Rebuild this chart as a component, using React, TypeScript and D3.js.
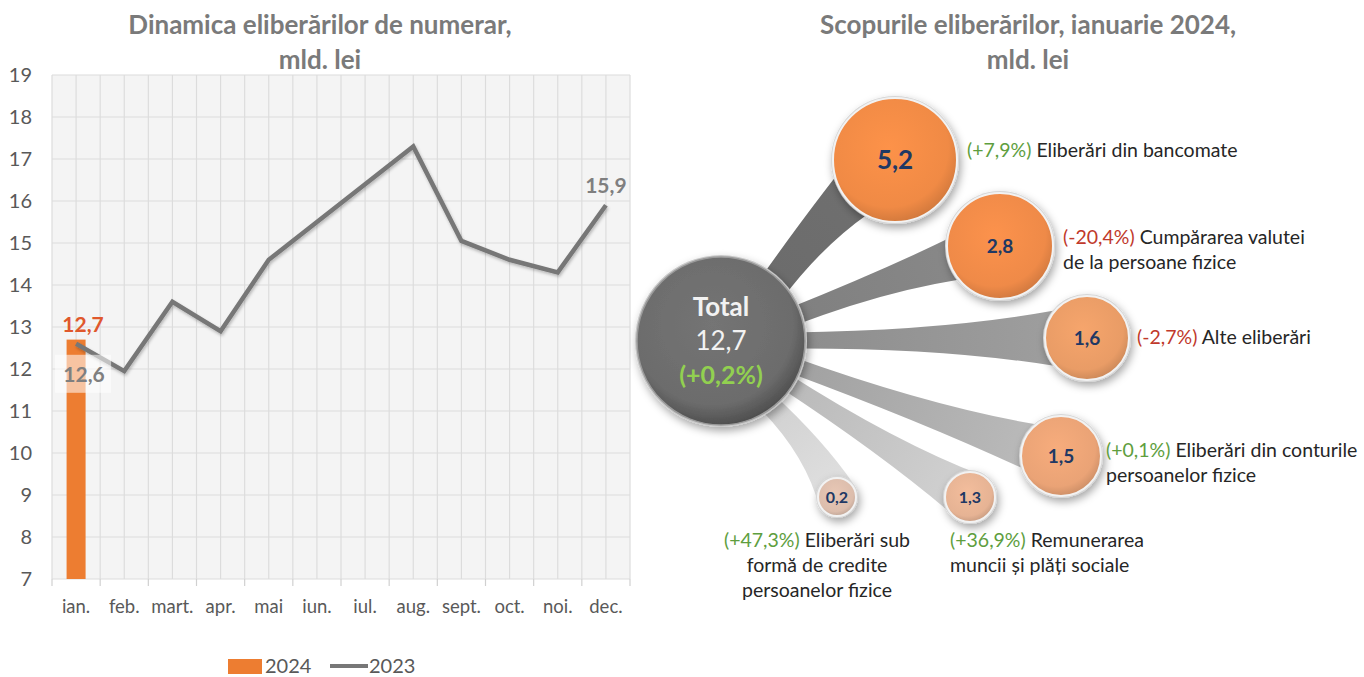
import React, { useEffect, useRef } from "react";
import * as d3 from "d3";

// left chart data
const months = ["ian.", "feb.", "mart.", "apr.", "mai", "iun.", "iul.", "aug.", "sept.", "oct.", "noi.", "dec."];
const values2023 = [12.6, 11.95, 13.6, 12.9, 14.6, 15.5, 16.4, 17.3, 15.05, 14.6, 14.3, 15.9];
const values2024 = [12.7];
const yTicks = [7, 8, 9, 10, 11, 12, 13, 14, 15, 16, 17, 18, 19];

// right chart data
const totalValue = "12,7";
const totalChange = "(+0,2%)";
const purposeValues = [5.2, 2.8, 1.6, 1.5, 1.3, 0.2];
const purposeChanges = ["+7,9%", "-20,4%", "-2,7%", "+0,1%", "+36,9%", "+47,3%"];
const purposeLabels = [
    ["Eliberări din bancomate"],
    ["Cumpărarea valutei", "de la persoane fizice"],
    ["Alte eliberări"],
    ["Eliberări din conturile", "persoanelor fizice"],
    ["Remunerarea", "muncii și plăți sociale"],
    ["Eliberări sub", "formă de credite", "persoanelor fizice"],
];

// bubble layout (positions, sizes, colours)
const bubbleLayout = [
    { x: 895, y: 160, r: 62, fill: "#f08a45", ribbon: "#6a6a6a", ribbonEnd: "#707070", w0: 15, w1: 36, bend: -14, font: 26, lx: 967, ly: 150, anchor: "start" },
    { x: 1000, y: 246, r: 53, fill: "#ef8a48", ribbon: "#7c7c7c", ribbonEnd: "#8a8a8a", w0: 9, w1: 30, bend: -6, font: 19, lx: 1063, ly: 237, anchor: "start" },
    { x: 1087, y: 338, r: 42, fill: "#e99c66", ribbon: "#888888", ribbonEnd: "#a0a0a0", w0: 8, w1: 34, bend: 0, font: 19, lx: 1137, ly: 337, anchor: "start" },
    { x: 1061, y: 456, r: 40, fill: "#eaa376", ribbon: "#999999", ribbonEnd: "#bdbdbd", w0: 8, w1: 28, bend: 4, font: 19, lx: 1106, ly: 450, anchor: "start" },
    { x: 970, y: 497, r: 25, fill: "#e6b394", ribbon: "#b0b0b0", ribbonEnd: "#d2d2d2", w0: 8, w1: 25, bend: 2, font: 16, lx: 950, ly: 540, anchor: "start" },
    { x: 837, y: 497, r: 19, fill: "#dcbdac", ribbon: "#c6c6c6", ribbonEnd: "#e0e0e0", w0: 10, w1: 21, bend: -12, font: 16, lx: 817, ly: 540, anchor: "middle" },
];

const FONT = "Lato, 'Open Sans', sans-serif";

const App: React.FC = () => {
    const svgRef = useRef<SVGSVGElement | null>(null);

    useEffect(() => {
        if (!svgRef.current) return;
        document.body.style.margin = "0";

        const width = 1364;
        const height = 677;
        const svg = d3.select(svgRef.current);
        svg.selectAll("*").remove();
        svg.attr("width", width).attr("height", height).style("font-family", FONT);

        svg.append("rect").attr("width", width).attr("height", height).attr("fill", "#ffffff");

        const defs = svg.append("defs");
        const shadow = defs.append("filter").attr("id", "shadow").attr("x", "-30%").attr("y", "-30%").attr("width", "160%").attr("height", "160%");
        shadow.append("feDropShadow").attr("dx", 2).attr("dy", 4).attr("stdDeviation", 4).attr("flood-color", "#000").attr("flood-opacity", 0.35);
        const lineBlur = defs.append("filter").attr("id", "lineShadow").attr("x", "-10%").attr("y", "-10%").attr("width", "120%").attr("height", "120%");
        lineBlur.append("feDropShadow").attr("dx", 1).attr("dy", 2).attr("stdDeviation", 1.5).attr("flood-color", "#000").attr("flood-opacity", 0.25);

        // ---------- left chart ----------
        const plot = { left: 52, right: 630, top: 75, bottom: 579 };

        const x = d3.scaleBand().domain(months).range([plot.left, plot.right]);
        const y = d3.scaleLinear().domain([7, 19]).range([plot.bottom, plot.top]);
        const bw = x.bandwidth();

        svg.append("g")
            .attr("font-weight", "bold")
            .attr("font-size", "26px")
            .attr("fill", "#7a7a7a")
            .attr("text-anchor", "middle")
            .selectAll("text")
            .data(["Dinamica eliberărilor de numerar,", "mld. lei"])
            .join("text")
            .attr("x", 320)
            .attr("y", (d, i) => 34 + i * 35)
            .text((d) => d);

        svg.append("rect")
            .attr("x", plot.left)
            .attr("y", plot.top)
            .attr("width", plot.right - plot.left)
            .attr("height", plot.bottom - plot.top)
            .attr("fill", "#f4f4f4");

        // vertical grid at band edges and centres
        const vLines: number[] = [];
        months.forEach((m) => {
            vLines.push(x(m)!);
            vLines.push(x(m)! + bw / 2);
        });
        vLines.push(plot.right);

        svg.append("g")
            .selectAll("line")
            .data(vLines)
            .join("line")
            .attr("x1", (d) => d)
            .attr("x2", (d) => d)
            .attr("y1", plot.top)
            .attr("y2", plot.bottom)
            .attr("stroke", "#dcdcdc")
            .attr("stroke-width", 1.2);

        svg.append("g")
            .selectAll("line")
            .data(yTicks)
            .join("line")
            .attr("x1", plot.left)
            .attr("x2", plot.right)
            .attr("y1", (d) => y(d))
            .attr("y2", (d) => y(d))
            .attr("stroke", "#dcdcdc")
            .attr("stroke-width", 1.2);

        // ticks under axis
        svg.append("g")
            .selectAll("line")
            .data([...months.map((m) => x(m)!), plot.right])
            .join("line")
            .attr("x1", (d) => d)
            .attr("x2", (d) => d)
            .attr("y1", plot.bottom)
            .attr("y2", plot.bottom + 7)
            .attr("stroke", "#d0d0d0")
            .attr("stroke-width", 1.2);

        svg.append("g")
            .attr("font-size", "20px")
            .attr("fill", "#595959")
            .attr("text-anchor", "end")
            .selectAll("text")
            .data(yTicks)
            .join("text")
            .attr("x", 32)
            .attr("y", (d) => y(d) + 7)
            .text((d) => d);

        svg.append("g")
            .attr("font-size", "18.5px")
            .attr("fill", "#595959")
            .attr("text-anchor", "middle")
            .selectAll("text")
            .data(months)
            .join("text")
            .attr("x", (d) => x(d)! + bw / 2)
            .attr("y", 613)
            .text((d) => d);

        // 2024 bar
        const barW = 19;
        svg.append("g")
            .selectAll("rect")
            .data(values2024)
            .join("rect")
            .attr("x", (d, i) => x(months[i])! + bw / 2 - barW / 2)
            .attr("y", (d) => y(d))
            .attr("width", barW)
            .attr("height", (d) => y(7) - y(d))
            .attr("fill", "#ed7d31");

        // 2023 line
        const line = d3.line<number>()
            .x((d, i) => x(months[i])! + bw / 2)
            .y((d) => y(d));

        svg.append("path")
            .datum(values2023)
            .attr("d", line)
            .attr("fill", "none")
            .attr("stroke", "#777777")
            .attr("stroke-width", 4.5)
            .attr("stroke-linejoin", "miter")
            .attr("filter", "url(#lineShadow)");

        // data labels
        const cx0 = x(months[0])! + bw / 2;
        svg.append("rect")
            .attr("x", cx0 - 21)
            .attr("y", y(values2023[0]) + 11)
            .attr("width", 56)
            .attr("height", 38)
            .attr("fill", "#ffffff")
            .attr("opacity", 0.55);

        svg.append("text")
            .attr("x", cx0 + 7)
            .attr("y", y(values2024[0]) - 8)
            .attr("text-anchor", "middle")
            .attr("font-weight", "bold")
            .attr("font-size", "21px")
            .attr("fill", "#e0582c")
            .text(String(values2024[0]).replace(".", ","));

        svg.append("text")
            .attr("x", cx0 + 8)
            .attr("y", y(values2023[0]) + 38)
            .attr("text-anchor", "middle")
            .attr("font-weight", "bold")
            .attr("font-size", "21px")
            .attr("fill", "#7f7f7f")
            .text(String(values2023[0]).replace(".", ","));

        const last = values2023.length - 1;
        svg.append("text")
            .attr("x", x(months[last])! + bw / 2)
            .attr("y", y(values2023[last]) - 12)
            .attr("text-anchor", "middle")
            .attr("font-weight", "bold")
            .attr("font-size", "21px")
            .attr("fill", "#7f7f7f")
            .text(String(values2023[last]).replace(".", ","));

        // legend
        const legend = svg.append("g").attr("font-size", "20px").attr("fill", "#595959");
        legend.append("rect").attr("x", 228).attr("y", 659).attr("width", 34).attr("height", 15).attr("fill", "#ed7d31");
        legend.append("text").attr("x", 265).attr("y", 673).text("2024");
        legend.append("line").attr("x1", 330).attr("x2", 368).attr("y1", 666).attr("y2", 666).attr("stroke", "#777777").attr("stroke-width", 4);
        legend.append("text").attr("x", 369).attr("y", 673).text("2023");

        // ---------- right chart ----------
        svg.append("g")
            .attr("font-weight", "bold")
            .attr("font-size", "26px")
            .attr("fill", "#7a7a7a")
            .attr("text-anchor", "middle")
            .selectAll("text")
            .data(["Scopurile eliberărilor, ianuarie 2024,", "mld. lei"])
            .join("text")
            .attr("x", 1028)
            .attr("y", (d, i) => 34 + i * 35)
            .text((d) => d);

        const total = { x: 721, y: 341, r: 84 };

        const ribbonPath = (b: typeof bubbleLayout[number]) => {
            const dx = b.x - total.x;
            const dy = b.y - total.y;
            const L = Math.hypot(dx, dy);
            const ux = dx / L, uy = dy / L;
            const nx = -uy, ny = ux;
            const sx = total.x + ux * (total.r - 12);
            const sy = total.y + uy * (total.r - 12);
            const span = L - total.r;
            const mx = sx + ux * span * 0.62 + nx * b.bend;
            const my = sy + uy * span * 0.62 + ny * b.bend;
            const p = d3.path();
            p.moveTo(sx + nx * b.w0, sy + ny * b.w0);
            p.quadraticCurveTo(mx + nx * b.w0 * 1.1, my + ny * b.w0 * 1.1, b.x + nx * b.w1, b.y + ny * b.w1);
            const a = Math.atan2(ny, nx);
            p.arc(b.x, b.y, b.w1, a, a + Math.PI, true);
            p.quadraticCurveTo(mx - nx * b.w0 * 1.1, my - ny * b.w0 * 1.1, sx - nx * b.w0, sy - ny * b.w0);
            p.closePath();
            return p.toString();
        };

        bubbleLayout.forEach((b, i) => {
            const g = defs.append("linearGradient")
                .attr("id", `rib${i}`)
                .attr("gradientUnits", "userSpaceOnUse")
                .attr("x1", total.x).attr("y1", total.y)
                .attr("x2", b.x).attr("y2", b.y);
            g.append("stop").attr("offset", "0%").attr("stop-color", b.ribbon);
            g.append("stop").attr("offset", "100%").attr("stop-color", b.ribbonEnd);

            const rg = defs.append("radialGradient").attr("id", `bub${i}`).attr("cx", "45%").attr("cy", "40%").attr("r", "60%");
            rg.append("stop").attr("offset", "0%").attr("stop-color", d3.color(b.fill)!.brighter(0.15).formatHex());
            rg.append("stop").attr("offset", "80%").attr("stop-color", b.fill);
            rg.append("stop").attr("offset", "100%").attr("stop-color", d3.color(b.fill)!.darker(0.35).formatHex());
        });

        const tg = defs.append("radialGradient").attr("id", "totalGrad").attr("cx", "45%").attr("cy", "40%").attr("r", "60%");
        tg.append("stop").attr("offset", "0%").attr("stop-color", "#747474");
        tg.append("stop").attr("offset", "80%").attr("stop-color", "#6c6c6c");
        tg.append("stop").attr("offset", "100%").attr("stop-color", "#505050");

        svg.append("g")
            .selectAll("path")
            .data(bubbleLayout)
            .join("path")
            .attr("d", (d) => ribbonPath(d))
            .attr("fill", (d, i) => `url(#rib${i})`);

        // total circle
        const tgroup = svg.append("g").attr("filter", "url(#shadow)");
        tgroup.append("circle").attr("cx", total.x).attr("cy", total.y).attr("r", total.r + 2).attr("fill", "#c9c9c9");
        tgroup.append("circle").attr("cx", total.x).attr("cy", total.y).attr("r", total.r).attr("fill", "url(#totalGrad)").attr("stroke", "#9a9a9a").attr("stroke-width", 1.5);

        svg.append("text").attr("x", total.x).attr("y", total.y - 25).attr("text-anchor", "middle").attr("font-size", "26px").attr("font-weight", "bold").attr("fill", "#f2f2f2").text("Total");
        svg.append("text").attr("x", total.x).attr("y", total.y + 9).attr("text-anchor", "middle").attr("font-size", "26px").attr("fill", "#f2f2f2").text(totalValue);
        svg.append("text").attr("x", total.x).attr("y", total.y + 43).attr("text-anchor", "middle").attr("font-size", "25px").attr("font-weight", "bold").attr("fill", "#92d050").text(totalChange);

        // bubbles
        const bubbles = svg.append("g")
            .selectAll("g")
            .data(bubbleLayout)
            .join("g");

        bubbles.append("circle")
            .attr("cx", (d) => d.x)
            .attr("cy", (d) => d.y)
            .attr("r", (d) => d.r + 2)
            .attr("fill", "#d6d6d6")
            .attr("filter", "url(#shadow)");

        bubbles.append("circle")
            .attr("cx", (d) => d.x)
            .attr("cy", (d) => d.y)
            .attr("r", (d) => d.r)
            .attr("fill", (d, i) => `url(#bub${i})`)
            .attr("stroke", "#f2f2f2")
            .attr("stroke-width", 2);

        bubbles.append("text")
            .attr("x", (d) => d.x)
            .attr("y", (d) => d.y + d.font * 0.36)
            .attr("text-anchor", "middle")
            .attr("font-weight", "bold")
            .attr("font-size", (d) => `${d.font}px`)
            .attr("fill", "#203864")
            .text((d, i) => String(purposeValues[i]).replace(".", ","));

        // labels
        const labels = svg.append("g")
            .attr("font-size", "19.5px")
            .attr("fill", "#262626");

        bubbleLayout.forEach((b, i) => {
            const t = labels.append("text")
                .attr("x", b.lx)
                .attr("y", b.ly + 7)
                .attr("text-anchor", b.anchor);
            purposeLabels[i].forEach((ln, j) => {
                const ts = t.append("tspan").attr("x", b.lx).attr("dy", j === 0 ? 0 : 25);
                if (j === 0) {
                    const change = purposeChanges[i];
                    ts.append("tspan")
                        .attr("fill", change.startsWith("-") ? "#c0392b" : "#5e9e3e")
                        .text(`(${change})`);
                    ts.append("tspan").text(` ${ln}`);
                } else {
                    ts.text(ln);
                }
            });
        });
    }, []);

    return <svg ref={svgRef} style={{ display: "block" }}></svg>;
};

export default App;
